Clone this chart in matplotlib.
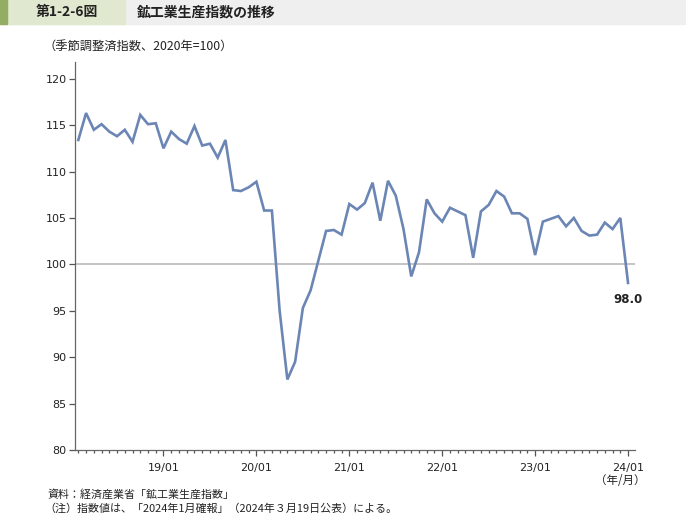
"""鉱工業生産指数の推移 (第1-2-6図) — monthly index line, 2018/02 to 2024/01."""

import matplotlib

matplotlib.use("Agg")
import matplotlib.pyplot as plt
from matplotlib.patches import Rectangle
from matplotlib.ticker import FixedLocator

plt.rcParams["font.family"] = ["DejaVu Sans", "Noto Sans CJK JP"]
JP = ["Noto Sans CJK JP", "DejaVu Sans"]

# seasonally adjusted index (2020=100), monthly from 2018/02 through 2024/01
months = [f"{y % 100:02d}/{m:02d}" for y in range(2018, 2025) for m in range(1, 13)][1:73]
index_values = [
    113.4, 116.3, 114.5, 115.1, 114.3, 113.8, 114.5, 113.2, 116.1, 115.1, 115.2,
    112.5, 114.3, 113.5, 113.0, 114.9, 112.8, 113.0, 111.5, 113.4, 108.0, 107.9,
    108.3, 108.9, 105.8, 105.8, 95.0, 87.6, 89.5, 95.3, 97.2, 100.4, 103.6, 103.7,
    103.2, 106.5, 105.9, 106.6, 108.8, 104.7, 109.0, 107.4, 103.8, 98.7, 101.3,
    107.0, 105.5, 104.6, 106.1, 105.7, 105.3, 100.7, 105.7, 106.4, 107.9, 107.3,
    105.5, 105.5, 104.9, 101.0, 104.6, 104.9, 105.2, 104.1, 105.0, 103.6, 103.1,
    103.2, 104.5, 103.8, 105.0, 98.0,
]
year_ticks = ["19/01", "20/01", "21/01", "22/01", "23/01", "24/01"]
y_ticks = [80, 85, 90, 95, 100, 105, 110, 115, 120]

LINE = "#6b86b4"

fig = plt.figure(figsize=(6.86, 5.15), dpi=100)

# header band
HB = 24 / 515
fig.patches.append(Rectangle((0, 1 - HB), 1, HB, transform=fig.transFigure,
                             color="#efefef", zorder=0))
fig.patches.append(Rectangle((0, 1 - HB), 125 / 686, HB, transform=fig.transFigure,
                             color="#e0e8cf", zorder=1))
fig.patches.append(Rectangle((0, 1 - HB), 7 / 686, HB, transform=fig.transFigure,
                             color="#93ae62", zorder=2))
fig.text(67 / 686, 1 - 12 / 515, "第1-2-6図", family=JP, fontsize=10, fontweight="bold",
         ha="center", va="center", color="#222222")
fig.text(137 / 686, 1 - 12 / 515, "鉱工業生産指数の推移", family=JP, fontsize=10,
         fontweight="bold", ha="left", va="center", color="#222222")

ax = fig.add_axes([75 / 686, 65 / 515, 560 / 686, 388 / 515])
x = list(range(len(index_values)))
ax.axhline(100, color="#c4c4c4", lw=1.4, zorder=1)
ax.plot(x, index_values, color=LINE, lw=1.9, zorder=3, solid_joinstyle="miter")
ax.annotate(f"{index_values[-1]:.1f}", (x[-1], index_values[-1]), xytext=(0, -7),
            textcoords="offset points", ha="center", va="top", fontsize=8.5,
            fontweight="bold", color="#222222")

ax.set_xlim(-0.43, 71.9)
ax.set_ylim(80, 121.8)
ax.set_yticks(y_ticks)
ax.set_yticklabels([str(v) for v in y_ticks], fontsize=8, color="#222222")
major_pos = [months.index(t) for t in year_ticks]
ax.set_xticks(major_pos)
ax.set_xticklabels(year_ticks, fontsize=8, color="#222222")
ax.xaxis.set_minor_locator(FixedLocator(x))
ax.tick_params(axis="x", which="major", length=4, width=0.9, color="#555555", pad=5)
ax.tick_params(axis="x", which="minor", length=2, width=0.9, color="#555555")
ax.tick_params(axis="y", length=4, width=0.9, color="#555555", pad=2)
for side in ("top", "right"):
    ax.spines[side].set_visible(False)
for side in ("left", "bottom"):
    ax.spines[side].set_color("#666666")
    ax.spines[side].set_linewidth(0.9)

fig.text(44 / 686, 1 - 46 / 515, "（季節調整済指数、2020年=100）", family=JP, fontsize=8.8,
         ha="left", va="center", color="#222222")
fig.text(620 / 686, 1 - 480 / 515, "（年/月）", family=JP, fontsize=8.3, ha="center",
         va="center", color="#222222")
fig.text(48 / 686, 1 - 494 / 515, "資料：経済産業省「鉱工業生産指数」", family=JP, fontsize=7.9,
         ha="left", va="center", color="#222222")
fig.text(44 / 686, 1 - 509 / 515, "（注）指数値は、「2024年1月確報」（2024年３月19日公表）による。",
         family=JP, fontsize=7.9, ha="left", va="center", color="#222222")

fig.savefig("out.png", dpi=100)
